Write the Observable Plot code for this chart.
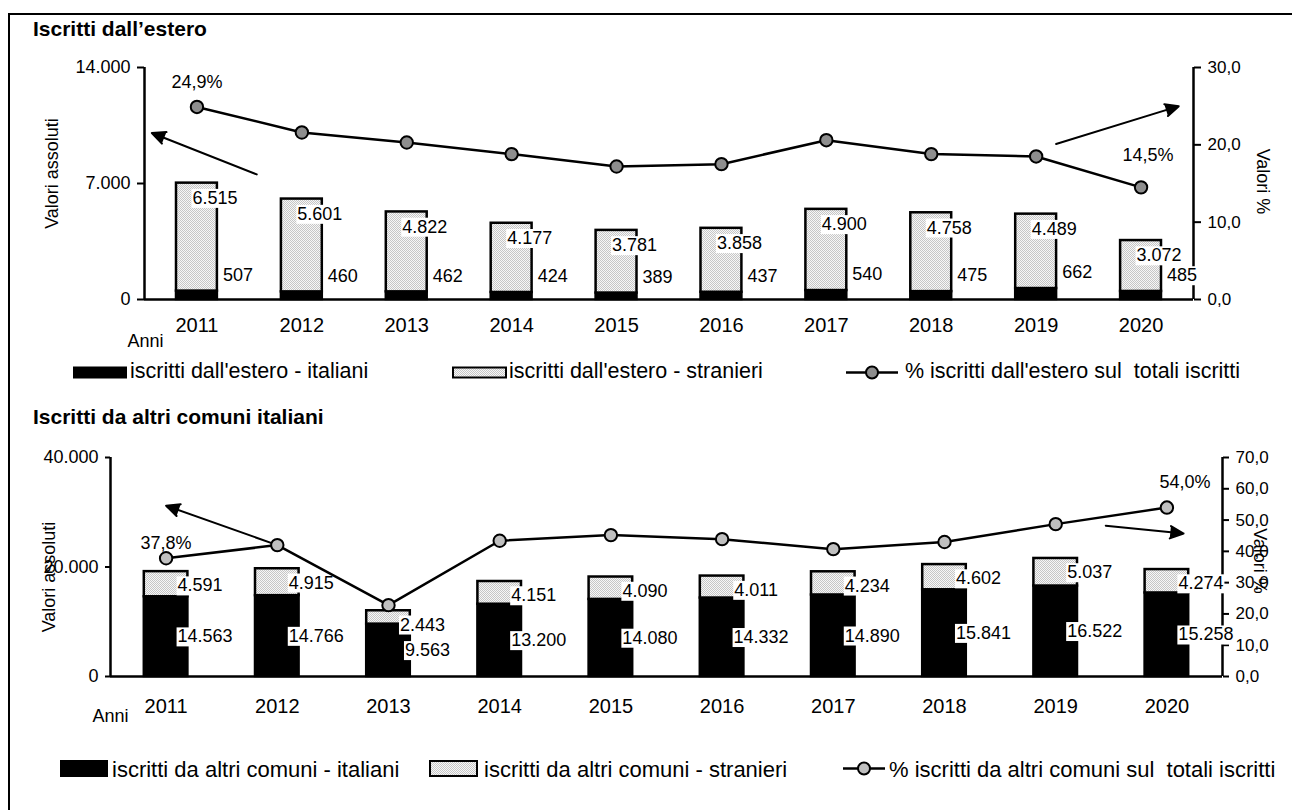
<!DOCTYPE html>
<html><head><meta charset="utf-8">
<script src="https://cdn.jsdelivr.net/npm/d3@7"></script>
<script src="https://cdn.jsdelivr.net/npm/@observablehq/plot@0.6"></script>
<style>
html,body{margin:0;padding:0;background:#fff;overflow:hidden;}
#page{position:relative;width:1292px;height:810px;font-family:"Liberation Sans",Arial,sans-serif;color:#000;background:#fff;}
#frame{position:absolute;left:8px;top:13px;width:1400px;height:900px;border-left:2px solid #000;border-top:2px solid #000;z-index:3;pointer-events:none;}
.chart{position:absolute;left:0;z-index:1;}
.chart svg{background:none !important;}
</style></head><body>
<svg width="0" height="0" style="position:absolute">
  <defs>
    <pattern id="dots" width="2" height="2" patternUnits="userSpaceOnUse">
      <rect width="2" height="2" fill="#f7f7f7"/>
      <rect x="0" y="0" width="1" height="1" fill="#c6c6c6"/>
      <rect x="1" y="1" width="1" height="1" fill="#c6c6c6"/>
    </pattern>
  </defs>
</svg>
<div id="page">
  <div id="frame"></div>
  <div class="chart" id="top" style="top:0px"></div>
  <div class="chart" id="bottom" style="top:430px"></div>
</div>
<script>
// ---------------- DATA ----------------
const years = [2011, 2012, 2013, 2014, 2015, 2016, 2017, 2018, 2019, 2020];

const esteroItaliani  = [507, 460, 462, 424, 389, 437, 540, 475, 662, 485];
const esteroStranieri = [6515, 5601, 4822, 4177, 3781, 3858, 4900, 4758, 4489, 3072];
const esteroPct       = [24.9, 21.6, 20.3, 18.8, 17.2, 17.5, 20.6, 18.8, 18.5, 14.5];

const comuniItaliani  = [14563, 14766, 9563, 13200, 14080, 14332, 14890, 15841, 16522, 15258];
const comuniStranieri = [4591, 4915, 2443, 4151, 4090, 4011, 4234, 4602, 5037, 4274];
const comuniPct       = [37.8, 42.0, 22.8, 43.4, 45.2, 43.9, 40.7, 43.0, 48.7, 54.0];

const esteroAbsTicks = [0, 7000, 14000];
const esteroPctTicks = [0, 10, 20, 30];
const comuniAbsTicks = [0, 20000, 40000];
const comuniPctTicks = [0, 10, 20, 30, 40, 50, 60, 70];

const titles = ["Iscritti dall\u2019estero", "Iscritti da altri comuni italiani"];
const esteroLegend = ["iscritti dall'estero - italiani", "iscritti dall'estero - stranieri", "% iscritti dall'estero sul  totali iscritti"];
const comuniLegend = ["iscritti da altri comuni - italiani", "iscritti da altri comuni - stranieri", "% iscritti da altri comuni sul  totali iscritti"];
const axisLabels = ["Valori assoluti", "Valori %", "Anni"];

// annotation arrows (data coordinates): left ones in absolute units, right ones in %
const esteroArrowAbs = [{x1: 2011.57, y1: 7550, x2: 2010.57, y2: 10050}];
const esteroArrowPct = [{x1: 2019.19, y1: 20.1, x2: 2020.36, y2: 25.0}];
const comuniArrowAbs = [{x1: 2012.0, y1: 24000, x2: 2011.0, y2: 31200}];
const comuniArrowPct = [{x1: 2019.45, y1: 48.2, x2: 2020.15, y2: 45.7}];

// ---------------- FORMAT ----------------
const itLocale = d3.formatLocale({decimal: ",", thousands: ".", grouping: [3], currency: ["€", ""]});
const fmtInt = itLocale.format(",");
const fmtPct = itLocale.format(",.1f");

const FONT = "Liberation Sans, Arial, sans-serif";

function buildChart(cfg) {
  const rows = years.map((year, i) => ({year, it: cfg.it[i], st: cfg.st[i], pct: cfg.pct[i]}));
  const f = cfg.absMax / cfg.pctMax;
  const xd = [years[0] - 0.5, years[years.length - 1] + 0.5];
  const n = rows.length;
  const arrowOpts = {stroke: "#000", fill: "#000", strokeWidth: 2, headLength: 11, headAngle: 50};
  const boxed = {fontSize: 18, fill: "#000", className: "boxed", ariaDescription: "boxed-label"};
  return Plot.plot({
    width: 1292, height: cfg.height,
    marginLeft: cfg.ml, marginRight: cfg.mr, marginTop: cfg.mt, marginBottom: cfg.mb,
    x: {type: "linear", domain: xd, label: null},
    y: {domain: [0, cfg.absMax], label: null},
    style: {fontFamily: FONT, fontSize: "18px", color: "#000", background: "none", overflow: "visible"},
    marks: [
      Plot.rectY(rows, {x1: d => d.year - 0.5, x2: d => d.year + 0.5, y1: 0, y2: "it",
        insetLeft: cfg.inset, insetRight: cfg.inset, fill: "#000", stroke: "#000", strokeWidth: 2.5}),
      Plot.rectY(rows, {x1: d => d.year - 0.5, x2: d => d.year + 0.5, y1: "it", y2: d => d.it + d.st,
        insetLeft: cfg.inset, insetRight: cfg.inset, fill: "url(#dots)", stroke: "#000", strokeWidth: 2.5}),
      Plot.ruleY([0], {x1: xd[0], x2: xd[1], stroke: "#000", strokeWidth: 2.5}),
      Plot.ruleX([xd[0]], {y1: 0, y2: cfg.absMax, stroke: "#000", strokeWidth: 2.5}),
      Plot.ruleX([xd[1]], {y1: 0, y2: cfg.absMax, stroke: "#000", strokeWidth: 2.5}),
      Plot.axisY({anchor: "left", ticks: cfg.absTicks, tickFormat: fmtInt, tickSize: cfg.tsl, tickPadding: 7,
        strokeWidth: 2, fontSize: 18, label: null}),
      Plot.axisY({anchor: "right", ticks: cfg.pctTicks.map(v => v * f), tickFormat: v => fmtPct(v / f),
        tickSize: cfg.tsr, tickPadding: 7, strokeWidth: 2, fontSize: 17, label: null}),
      Plot.axisX({ticks: years, tickFormat: d => String(d), tickSize: 0, tickPadding: cfg.xpad, fontSize: 20, label: null}),
      Plot.text(rows, {x: "year", y: d => d.it + d.st, text: d => fmtInt(d.st), dx: cfg.stDx, dy: cfg.stDy, ...boxed}),
      Plot.text(rows, {x: "year", y: cfg.itMid ? (d => d.it / 2) : "it", text: d => fmtInt(d.it), dx: cfg.itDx, dy: cfg.itDy, ...boxed}),
      Plot.arrow(cfg.arrowAbs, {x1: "x1", y1: "y1", x2: "x2", y2: "y2", ...arrowOpts}),
      Plot.arrow(cfg.arrowPct, {x1: "x1", y1: d => d.y1 * f, x2: "x2", y2: d => d.y2 * f, ...arrowOpts}),
      Plot.line(rows, {x: "year", y: d => d.pct * f, stroke: "#000", strokeWidth: 2.5}),
      Plot.dot(rows, {x: "year", y: d => d.pct * f, r: 6.2, fill: cfg.dotFill, stroke: "#000", strokeWidth: 2}),
      Plot.text(rows.slice(0, 1), {x: "year", y: d => d.pct * f, text: d => fmtPct(d.pct) + "%",
        dx: cfg.p0dx, dy: cfg.p0dy, fontSize: 18, fill: "#000"}),
      Plot.text(rows.slice(n - 1), {x: "year", y: d => d.pct * f, text: d => fmtPct(d.pct) + "%",
        dx: cfg.p1dx, dy: cfg.p1dy, fontSize: 18, fill: "#000"}),
      Plot.text([axisLabels[0]], {text: d => d, frameAnchor: "left", textAnchor: "middle", rotate: -90,
        dx: cfg.lLabDx, dy: cfg.lLabDy, fontSize: 18, fill: "#000"}),
      Plot.text([axisLabels[1]], {text: d => d, frameAnchor: "right", textAnchor: "middle", rotate: 90,
        dx: cfg.rLabDx, dy: cfg.rLabDy, fontSize: 18, fill: "#000"}),
      Plot.text([axisLabels[2]], {text: d => d, frameAnchor: "bottom-left", textAnchor: "middle",
        dx: cfg.anniDx, dy: cfg.anniDy, fontSize: 18, fill: "#000"})
    ]
  });
}

function boxLabels(svg) {
  const set = new Set();
  svg.querySelectorAll('g.boxed text, g[aria-description="boxed-label"] text').forEach(t => set.add(t));
  set.forEach(t => {
    const b = t.getBBox();
    const r = document.createElementNS("http://www.w3.org/2000/svg", "rect");
    r.setAttribute("x", b.x - 1);
    r.setAttribute("y", b.y + 1);
    r.setAttribute("width", b.width + 2);
    r.setAttribute("height", b.height - 1);
    r.setAttribute("fill", "#fff");
    r.setAttribute("stroke", "none");
    const tr = t.getAttribute("transform");
    if (tr) r.setAttribute("transform", tr);
    t.parentNode.insertBefore(r, t);
  });
}

const topSvg = buildChart({
  it: esteroItaliani, st: esteroStranieri, pct: esteroPct,
  absMax: 14000, pctMax: 30, absTicks: esteroAbsTicks, pctTicks: esteroPctTicks,
  height: 360, ml: 144, mr: 99, mt: 67, mb: 61, inset: 32, tsl: 7, tsr: 7, xpad: 18,
  stDx: 18, stDy: 15, itDx: 41, itDy: -16, itMid: false,
  arrowAbs: esteroArrowAbs, arrowPct: esteroArrowPct, dotFill: "#8e8e8e",
  p0dx: 0, p0dy: -25, p1dx: 7, p1dy: -32,
  lLabDx: -92, lLabDy: -10, rLabDx: 69, rLabDy: -2, anniDx: 1, anniDy: 47
});
document.getElementById("top").appendChild(topSvg);
boxLabels(topSvg);

const bottomSvg = buildChart({
  it: comuniItaliani, st: comuniStranieri, pct: comuniPct,
  absMax: 40000, pctMax: 70, absTicks: comuniAbsTicks, pctTicks: comuniPctTicks,
  height: 300, ml: 110, mr: 70, mt: 27, mb: 54, inset: 33.8, tsl: 5, tsr: 6, xpad: 22,
  stDx: 34, stDy: 14, itDx: 39, itDy: 0, itMid: true,
  arrowAbs: comuniArrowAbs, arrowPct: comuniArrowPct, dotFill: "#c0c0c0",
  p0dx: 0, p0dy: -15, p1dx: 18, p1dy: -25,
  lLabDx: -61, lLabDy: 10, rLabDx: 37, rLabDy: -6, anniDx: 0, anniDy: 45
});
document.getElementById("bottom").appendChild(bottomSvg);
boxLabels(bottomSvg);

// ---------------- TITLES & LEGENDS (overlay) ----------------
const ov = d3.select("#page").append("svg")
  .attr("width", 1292).attr("height", 810)
  .style("position", "absolute").style("left", 0).style("top", 0).style("z-index", 2)
  .style("pointer-events", "none").style("font-family", FONT);

ov.append("text").attr("x", 33).attr("y", 36).attr("font-size", 21).attr("font-weight", "bold").text(titles[0]);
ov.append("text").attr("x", 33).attr("y", 424).attr("font-size", 21).attr("font-weight", "bold").text(titles[1]);

function legend(labels, o) {
  const g = ov.append("g");
  g.append("rect").attr("x", o.s1x).attr("y", o.sy).attr("width", o.sw).attr("height", o.sh).attr("fill", "#000");
  g.append("text").attr("x", o.t1x).attr("y", o.base).attr("font-size", o.fs).text(labels[0]);
  g.append("rect").attr("x", o.s2x).attr("y", o.sy + 1).attr("width", o.sw - 1).attr("height", o.sh - 2)
    .attr("fill", "url(#dots)").attr("stroke", "#000").attr("stroke-width", 2);
  g.append("text").attr("x", o.t2x).attr("y", o.base).attr("font-size", o.fs).text(labels[1]);
  const cy = o.sy + o.sh / 2;
  g.append("line").attr("x1", o.l1).attr("x2", o.l2).attr("y1", cy).attr("y2", cy).attr("stroke", "#000").attr("stroke-width", 2.5);
  g.append("circle").attr("cx", (o.l1 + o.l2) / 2).attr("cy", cy).attr("r", 6).attr("fill", o.dot).attr("stroke", "#000").attr("stroke-width", 2);
  g.append("text").attr("x", o.t3x).attr("y", o.base).attr("font-size", o.fs).style("white-space", "pre").text(labels[2]);
}
legend(esteroLegend, {s1x: 73, sy: 366.5, sw: 54, sh: 12, t1x: 130, base: 378, fs: 21.5,
  s2x: 453, t2x: 509, l1: 846, l2: 898, t3x: 905, dot: "#8e8e8e"});
legend(comuniLegend, {s1x: 60, sy: 760, sw: 48, sh: 17, t1x: 112, base: 777, fs: 22,
  s2x: 430, t2x: 484, l1: 843, l2: 885, t3x: 889, dot: "#c0c0c0"});
</script>
</body></html>
